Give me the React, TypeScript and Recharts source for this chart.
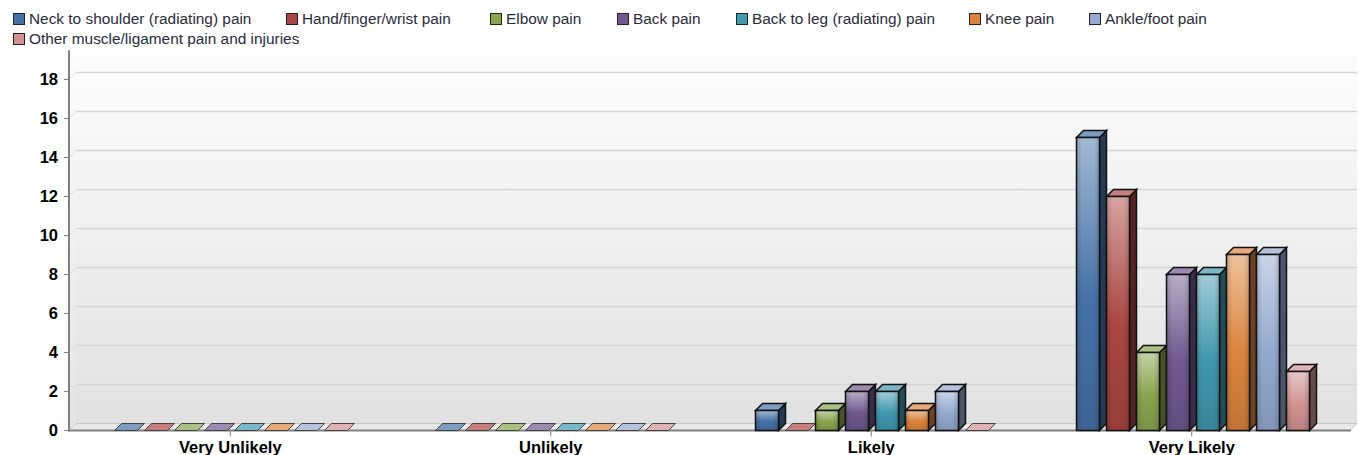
import React from 'react';
import { BarChart, Bar, XAxis, YAxis, CartesianGrid, ReferenceArea, Legend } from 'recharts';

const categories = ['Very Unlikely', 'Unlikely', 'Likely', 'Very Likely'];
const seriesNames = [
  'Neck to shoulder (radiating) pain',
  'Hand/finger/wrist pain',
  'Elbow pain',
  'Back pain',
  'Back to leg (radiating) pain',
  'Knee pain',
  'Ankle/foot pain',
  'Other muscle/ligament pain and injuries',
];
const neck = [0, 0, 1, 15];
const hand = [0, 0, 0, 12];
const elbow = [0, 0, 1, 4];
const back = [0, 0, 2, 8];
const backLeg = [0, 0, 2, 8];
const knee = [0, 0, 1, 9];
const ankle = [0, 0, 2, 9];
const other = [0, 0, 0, 3];
const seriesValues = [neck, hand, elbow, back, backLeg, knee, ankle, other];
const colors = ['#4572A7', '#AA4643', '#89A54E', '#71588F', '#4198AF', '#DB843D', '#93A9CF', '#D19392'];
const yTicks = [0, 2, 4, 6, 8, 10, 12, 14, 16, 18];

const data = categories.map((name, c) => {
  const row: Record<string, string | number> = { name };
  seriesNames.forEach((s, i) => { row[s] = seriesValues[i][c]; });
  return row;
});

const DEPTH = 7;
const FONT = '"Liberation Sans", Arial, sans-serif';
const legendLeft = [0, 273, 477, 604, 723, 956, 1076, 0];

function mix(hex: string, target: number, t: number) {
  const n = parseInt(hex.slice(1), 16);
  const ch = [(n >> 16) & 255, (n >> 8) & 255, n & 255].map((v) => Math.round(v + (target - v) * t));
  return `rgb(${ch[0]},${ch[1]},${ch[2]})`;
}

function Box3D(props: any, idx: number) {
  const color = colors[idx];
  const x = Math.round(props.x) + 0.5;
  const w = Math.round(props.width);
  const base = 430.5;
  const h = Math.max(0, Math.round(props.height));
  const y = base - h;
  const d = DEPTH;
  const key = `${idx}-${props.index}`;
  if (h === 0) {
    return (
      <path
        d={`M${x} ${y} L${x + d} ${y - d} L${x + w + d} ${y - d} L${x + w} ${y} Z`}
        fill={mix(color, 255, 0.3)}
        stroke="#444"
        strokeWidth={1}
      />
    );
  }
  return (
    <g>
      <defs>
        <linearGradient id={`f${key}`} x1="0" y1="0" x2="0" y2="1">
          <stop offset="0" stopColor={mix(color, 255, 0.5)} />
          <stop offset="0.55" stopColor={color} />
          <stop offset="1" stopColor={mix(color, 0, 0.12)} />
        </linearGradient>
        <linearGradient id={`e${key}`} x1="0" y1="0" x2="1" y2="0">
          <stop offset="0" stopColor="#000" stopOpacity="0.16" />
          <stop offset="0.25" stopColor="#000" stopOpacity="0" />
          <stop offset="0.75" stopColor="#000" stopOpacity="0" />
          <stop offset="1" stopColor="#000" stopOpacity="0.16" />
        </linearGradient>
      </defs>
      <path
        d={`M${x + w} ${y} L${x + w + d} ${y - d} L${x + w + d} ${base - d} L${x + w} ${base} Z`}
        fill={mix(color, 0, 0.5)}
        stroke="#111"
        strokeWidth={1.5}
      />
      <path
        d={`M${x} ${y} L${x + d} ${y - d} L${x + w + d} ${y - d} L${x + w} ${y} Z`}
        fill={mix(color, 255, 0.3)}
        stroke="#111"
        strokeWidth={1.5}
      />
      <rect x={x} y={y} width={w} height={h} fill={`url(#f${key})`} />
      <rect x={x} y={y} width={w} height={h} fill={`url(#e${key})`} stroke="#111" strokeWidth={1.5} />
    </g>
  );
}

function Wall(props: any) {
  const top = props.y;
  const bottom = props.y + props.height;
  const left = 69;
  const right = 1357;
  const d = DEPTH;
  return (
    <g>
      <defs>
        <linearGradient id="wallFill" x1="0" y1="0" x2="0" y2="1">
          <stop offset="0" stopColor="#fdfdfd" />
          <stop offset="1" stopColor="#e1e1e1" />
        </linearGradient>
      </defs>
      <rect x={left + d} y={top} width={right - left - d} height={bottom - d - top} fill="url(#wallFill)" />
      <path d={`M${left} ${top} L${left + d} ${top} L${left + d} ${bottom - d} L${left} ${bottom} Z`} fill="url(#wallFill)" opacity={0.9} />
      <path d={`M${left} ${bottom} L${left + d} ${bottom - d} L${right} ${bottom - d} L${right - d} ${bottom} Z`} fill="#e8e8e8" stroke="#c8c8c8" />
    </g>
  );
}

function AxisFrame(props: any) {
  const top = props.y;
  const bottom = props.y + props.height;
  return (
    <g>
      <line x1={69} y1={top} x2={69} y2={bottom + 1} stroke="#808080" strokeWidth={2} />
      <line x1={68} y1={bottom} x2={1351} y2={bottom} stroke="#808080" strokeWidth={2} />
    </g>
  );
}

function GridLine(props: any) {
  const { y1 } = props;
  if (y1 > 430 || y1 < 60) return <g />;
  const d = DEPTH;
  return (
    <g>
      <line x1={69} y1={y1} x2={69 + d} y2={y1 - d} stroke="#dcdcdc" />
      <line x1={69 + d} y1={y1 - d} x2={1357} y2={y1 - d} stroke="#d6d6d6" strokeWidth={1.6} />
    </g>
  );
}

function LegendContent() {
  return (
    <div style={{ position: 'relative', height: 40, width: 1330, fontFamily: FONT, fontSize: 15.4, color: '#2b2b3a', lineHeight: '20px' }}>
      {seriesNames.map((s, i) => (
        <span key={s} style={{ position: 'absolute', left: legendLeft[i], top: i === 7 ? 20 : 0, whiteSpace: 'nowrap', display: 'inline-flex', alignItems: 'center' }}>
          <span style={{ width: 10, height: 10, background: colors[i], border: '1px solid #222', marginRight: 4, display: 'inline-block' }} />
          {s}
        </span>
      ))}
    </div>
  );
}

const tickStyle = { fontFamily: FONT, fontSize: 16.5, fontWeight: 700, fill: '#000' };

export default function App() {
  return (
    <div style={{ position: 'absolute', left: 0, top: 0, width: 1358, height: 455, background: '#fff', overflow: 'hidden' }}>
      <BarChart
        width={1358}
        height={455}
        data={data}
        margin={{ top: 10.25, right: 6, bottom: 0, left: 0 }}
        barSize={23}
        barGap={7}
      >
        <ReferenceArea y1={0} y2={19.5} ifOverflow="visible" shape={Wall} zIndex={-200} />
        <CartesianGrid vertical={false} horizontal={(p: any) => <GridLine {...p} />} syncWithTicks />
        <XAxis dataKey="name" height={24.5} interval={0} axisLine={false} tickSize={6} tickLine={{ stroke: '#808080' }} tickMargin={5} tick={tickStyle} />
        <YAxis width={70} domain={[0, 19.5]} ticks={yTicks} interval={0} axisLine={false} tickSize={6} tickLine={{ stroke: '#808080' }} tickMargin={6} tick={tickStyle} />
        <ReferenceArea y1={0} y2={19.5} ifOverflow="visible" fill="none" shape={AxisFrame} />
        <Legend verticalAlign="top" content={<LegendContent />} wrapperStyle={{ position: 'absolute', left: 13, top: 9, width: 1330, height: 40 }} />
        {seriesNames.map((s, i) => (
          <Bar key={s} dataKey={s} isAnimationActive={false} shape={(p: any) => Box3D(p, i)} />
        ))}
      </BarChart>
    </div>
  );
}
